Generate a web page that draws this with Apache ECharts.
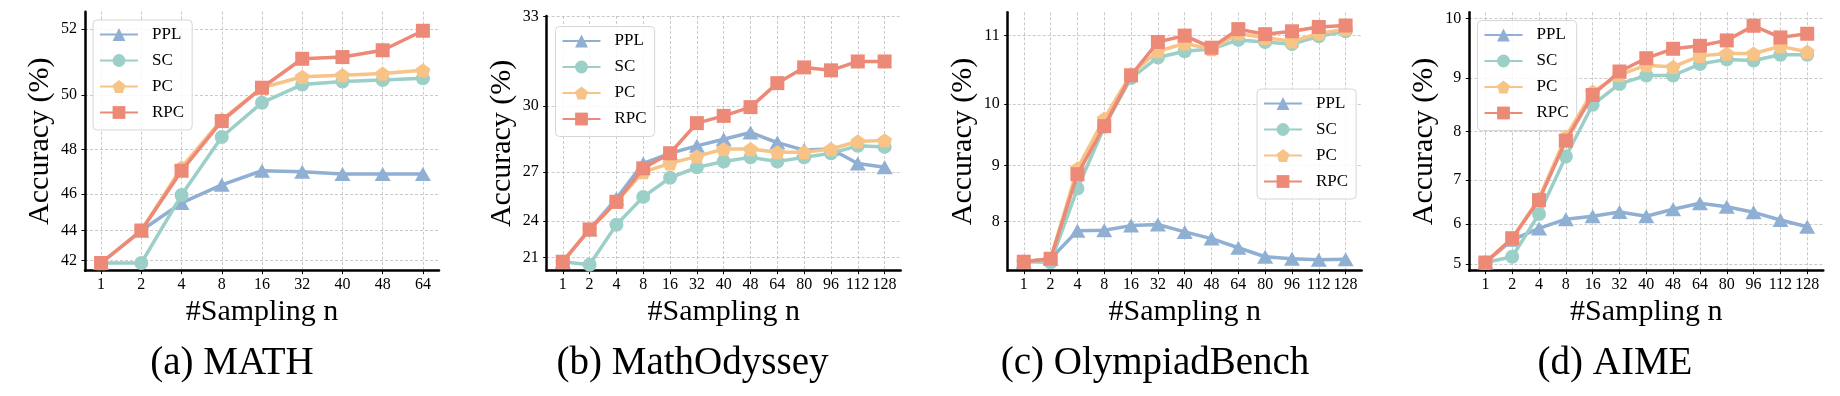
<!DOCTYPE html>
<html>
<head>
<meta charset="utf-8">
<script src="https://cdn.jsdelivr.net/npm/echarts@6/dist/echarts.min.js"></script>
<style>
  html, body { margin: 0; padding: 0; background: #fff; }
  #chart { width: 1840px; height: 396px; }
</style>
</head>
<body>
<div id="chart"></div>
<script>
// x categories
const catsA = ['1', '2', '4', '8', '16', '32', '40', '48', '64'];
const catsB = ['1', '2', '4', '8', '16', '32', '40', '48', '64', '80', '96', '112', '128'];

// y tick labels
const ticksA = [42, 44, 46, 48, 50, 52];
const ticksB = [21, 24, 27, 30, 33];
const ticksC = [8, 9, 10, 11];
const ticksD = [5, 6, 7, 8, 9, 10];

// visible y range of each panel
const rangeA = [41.2, 52.46];
const rangeB = [19.66, 33.01];
const rangeC = [7.025, 11.32];
const rangeD = [4.823, 10.096];

// (a) MATH
const pplA = [41.8, 44.0, 45.55, 46.45, 47.1, 47.05, 46.95, 46.95, 46.95];
const scA  = [41.8, 41.8, 45.95, 48.5, 49.75, 50.35, 50.45, 50.5, 50.55];
const pcA  = [41.8, 44.0, 47.25, 49.15, 50.25, 50.6, 50.65, 50.7, 50.8];
const rpcA = [41.8, 44.0, 47.1, 49.1, 50.25, 51.15, 51.2, 51.4, 51.95];

// (b) MathOdyssey
const pplB = [20.6, 23.4, 25.5, 27.45, 27.95, 28.3, 28.6, 28.9, 28.45, 28.1, 28.15, 27.45, 27.25];
const scB  = [20.6, 20.3, 23.75, 25.6, 26.7, 27.25, 27.55, 27.75, 27.55, 27.75, 27.95, 28.3, 28.25];
const pcB  = [20.6, 23.4, 25.3, 27.0, 27.45, 27.8, 28.15, 28.15, 28.0, 28.0, 28.15, 28.5, 28.55];
const rpcB = [20.6, 23.4, 25.3, 27.2, 27.95, 29.3, 29.6, 29.95, 30.85, 31.4, 31.3, 31.6, 31.6];

// (c) OlympiadBench
const pplC = [7.21, 7.27, 7.82, 7.83, 7.92, 7.94, 7.8, 7.67, 7.49, 7.31, 7.27, 7.25, 7.26];
const scC  = [7.21, 7.2, 8.6, 9.64, 10.39, 10.69, 10.78, 10.81, 10.94, 10.91, 10.88, 10.99, 11.06];
const pcC  = [7.21, 7.27, 8.95, 9.77, 10.45, 10.78, 10.89, 10.81, 11.03, 10.97, 10.92, 11.03, 11.09];
const rpcC = [7.21, 7.27, 8.85, 9.65, 10.43, 10.91, 11.0, 10.83, 11.09, 11.02, 11.06, 11.12, 11.14];

// (d) AIME
const pplD = [5.04, 5.62, 5.9, 6.12, 6.19, 6.29, 6.19, 6.35, 6.49, 6.41, 6.28, 6.1, 5.94];
const scD  = [5.04, 5.19, 6.24, 7.5, 8.51, 8.89, 9.04, 9.04, 9.24, 9.32, 9.3, 9.4, 9.4];
const pcD  = [5.04, 5.66, 6.6, 7.9, 8.75, 9.05, 9.22, 9.19, 9.38, 9.42, 9.42, 9.54, 9.45];
const rpcD = [5.04, 5.66, 6.56, 7.82, 8.69, 9.11, 9.34, 9.5, 9.55, 9.64, 9.88, 9.69, 9.75];

const names = ['PPL', 'SC', 'PC', 'RPC'];
const colors = ['#8FAFD3', '#9BCFC7', '#F7C387', '#EC8977'];
const symbols = ['triangle', 'circle', 'path://M0,-1 L0.951,-0.309 L0.588,0.809 L-0.588,0.809 L-0.951,-0.309 Z', 'rect'];
const symbolSizes = [[16, 14], 14, 15, 14];

const FONT = 'Liberation Serif';

// the y scale of the figure grows like exp(v/10)
const tf = v => Math.exp(v / 10);
const itf = t => Math.round(10 * Math.log(t));

const panels = [
  {title: '(a) MATH', cats: catsA, ticks: ticksA, range: rangeA, data: [pplA, scA, pcA, rpcA],
   grid: {left: 85, top: 11.7, width: 354, height: 259}, legend: {left: 93, top: 20}, titleX: 232},
  {title: '(b) MathOdyssey', cats: catsB, ticks: ticksB, range: rangeB, data: [pplB, scB, pcB, rpcB],
   grid: {left: 546.7, top: 16, width: 354, height: 254.7}, legend: {left: 555.5, top: 26.5}, titleX: 692.5},
  {title: '(c) OlympiadBench', cats: catsB, ticks: ticksC, range: rangeC, data: [pplC, scC, pcC, rpcC],
   grid: {left: 1007.7, top: 12.3, width: 354, height: 258.4}, legend: {left: 1257, top: 89}, titleX: 1155},
  {title: '(d) AIME', cats: catsB, ticks: ticksD, range: rangeD, data: [pplD, scD, pcD, rpcD],
   grid: {left: 1469.3, top: 12.3, width: 354, height: 258.4}, legend: {left: 1477.5, top: 20.5}, titleX: 1615}
];

const gridLine = {show: true, lineStyle: {color: '#bdbdbd', width: 0.8, type: [3, 2]}};
const axisLine = {show: true, onZero: false, lineStyle: {color: '#000', width: 2.5}};
const tickStyle = {color: '#000', width: 1};

const option = {
  animation: false,
  backgroundColor: '#fff',
  textStyle: {fontFamily: FONT},
  grid: panels.map(p => p.grid),
  xAxis: panels.map((p, i) => {
    const pad = 0.05 * (p.cats.length - 1);
    const idx = p.cats.map((_, j) => j);
    return {
      gridIndex: i,
      type: 'value',
      min: -pad,
      max: p.cats.length - 1 + pad,
      axisLine: axisLine,
      axisTick: {show: true, customValues: idx, length: 3.5, lineStyle: tickStyle},
      axisLabel: {
        customValues: idx,
        formatter: v => p.cats[Math.round(v)],
        margin: 6, color: '#000', fontSize: 16, fontFamily: FONT
      },
      splitLine: gridLine,
      name: '#Sampling n',
      nameLocation: 'middle',
      nameGap: 26,
      nameMoveOverlap: false,
      nameTextStyle: {fontSize: 30, fontFamily: FONT, color: '#000'}
    };
  }),
  yAxis: panels.map((p, i) => ({
    gridIndex: i,
    type: 'value',
    min: tf(p.range[0]),
    max: tf(p.range[1]),
    axisLine: axisLine,
    axisTick: {show: true, customValues: p.ticks.map(tf), length: 3.5, lineStyle: tickStyle},
    axisLabel: {
      customValues: p.ticks.map(tf),
      formatter: v => String(itf(v)),
      margin: 8, color: '#000', fontSize: 16, fontFamily: FONT
    },
    splitLine: gridLine,
    name: 'Accuracy (%)',
    nameLocation: 'middle',
    nameGap: 30,
    nameMoveOverlap: false,
    nameTextStyle: {fontSize: 30, fontFamily: FONT, color: '#000'}
  })),
  legend: panels.map(p => ({
    left: p.legend.left,
    top: p.legend.top,
    orient: 'vertical',
    data: names,
    itemWidth: 38,
    itemHeight: 16,
    itemGap: 9,
    padding: [6, 8, 9, 6],
    backgroundColor: 'rgba(255,255,255,0.85)',
    borderColor: '#d6d6d6',
    borderWidth: 1,
    borderRadius: 4,
    selectedMode: false,
    textStyle: {fontSize: 17, fontFamily: FONT, color: '#000', padding: [0, 0, 0, 9]}
  })),
  graphic: panels.map(p => ({
    type: 'text',
    x: p.titleX,
    y: 364,
    style: {
      text: p.title,
      fill: '#000',
      fontSize: 39,
      fontFamily: FONT,
      textAlign: 'center',
      textVerticalAlign: 'middle'
    }
  })),
  series: []
};

panels.forEach((p, i) => {
  p.data.forEach((vals, k) => {
    option.series.push({
      name: names[k],
      type: 'line',
      xAxisIndex: i,
      yAxisIndex: i,
      data: vals.map((v, j) => [j, tf(v)]),
      symbol: symbols[k],
      symbolSize: symbolSizes[k],
      symbolKeepAspect: true,
      showAllSymbol: true,
      lineStyle: {width: 3.5, color: colors[k]},
      itemStyle: {color: colors[k]},
      emphasis: {disabled: true},
      z: 2 + k
    });
  });
});

const chart = echarts.init(document.getElementById('chart'));
chart.setOption(option);
window.addEventListener('resize', () => chart.resize());
</script>
</body>
</html>
